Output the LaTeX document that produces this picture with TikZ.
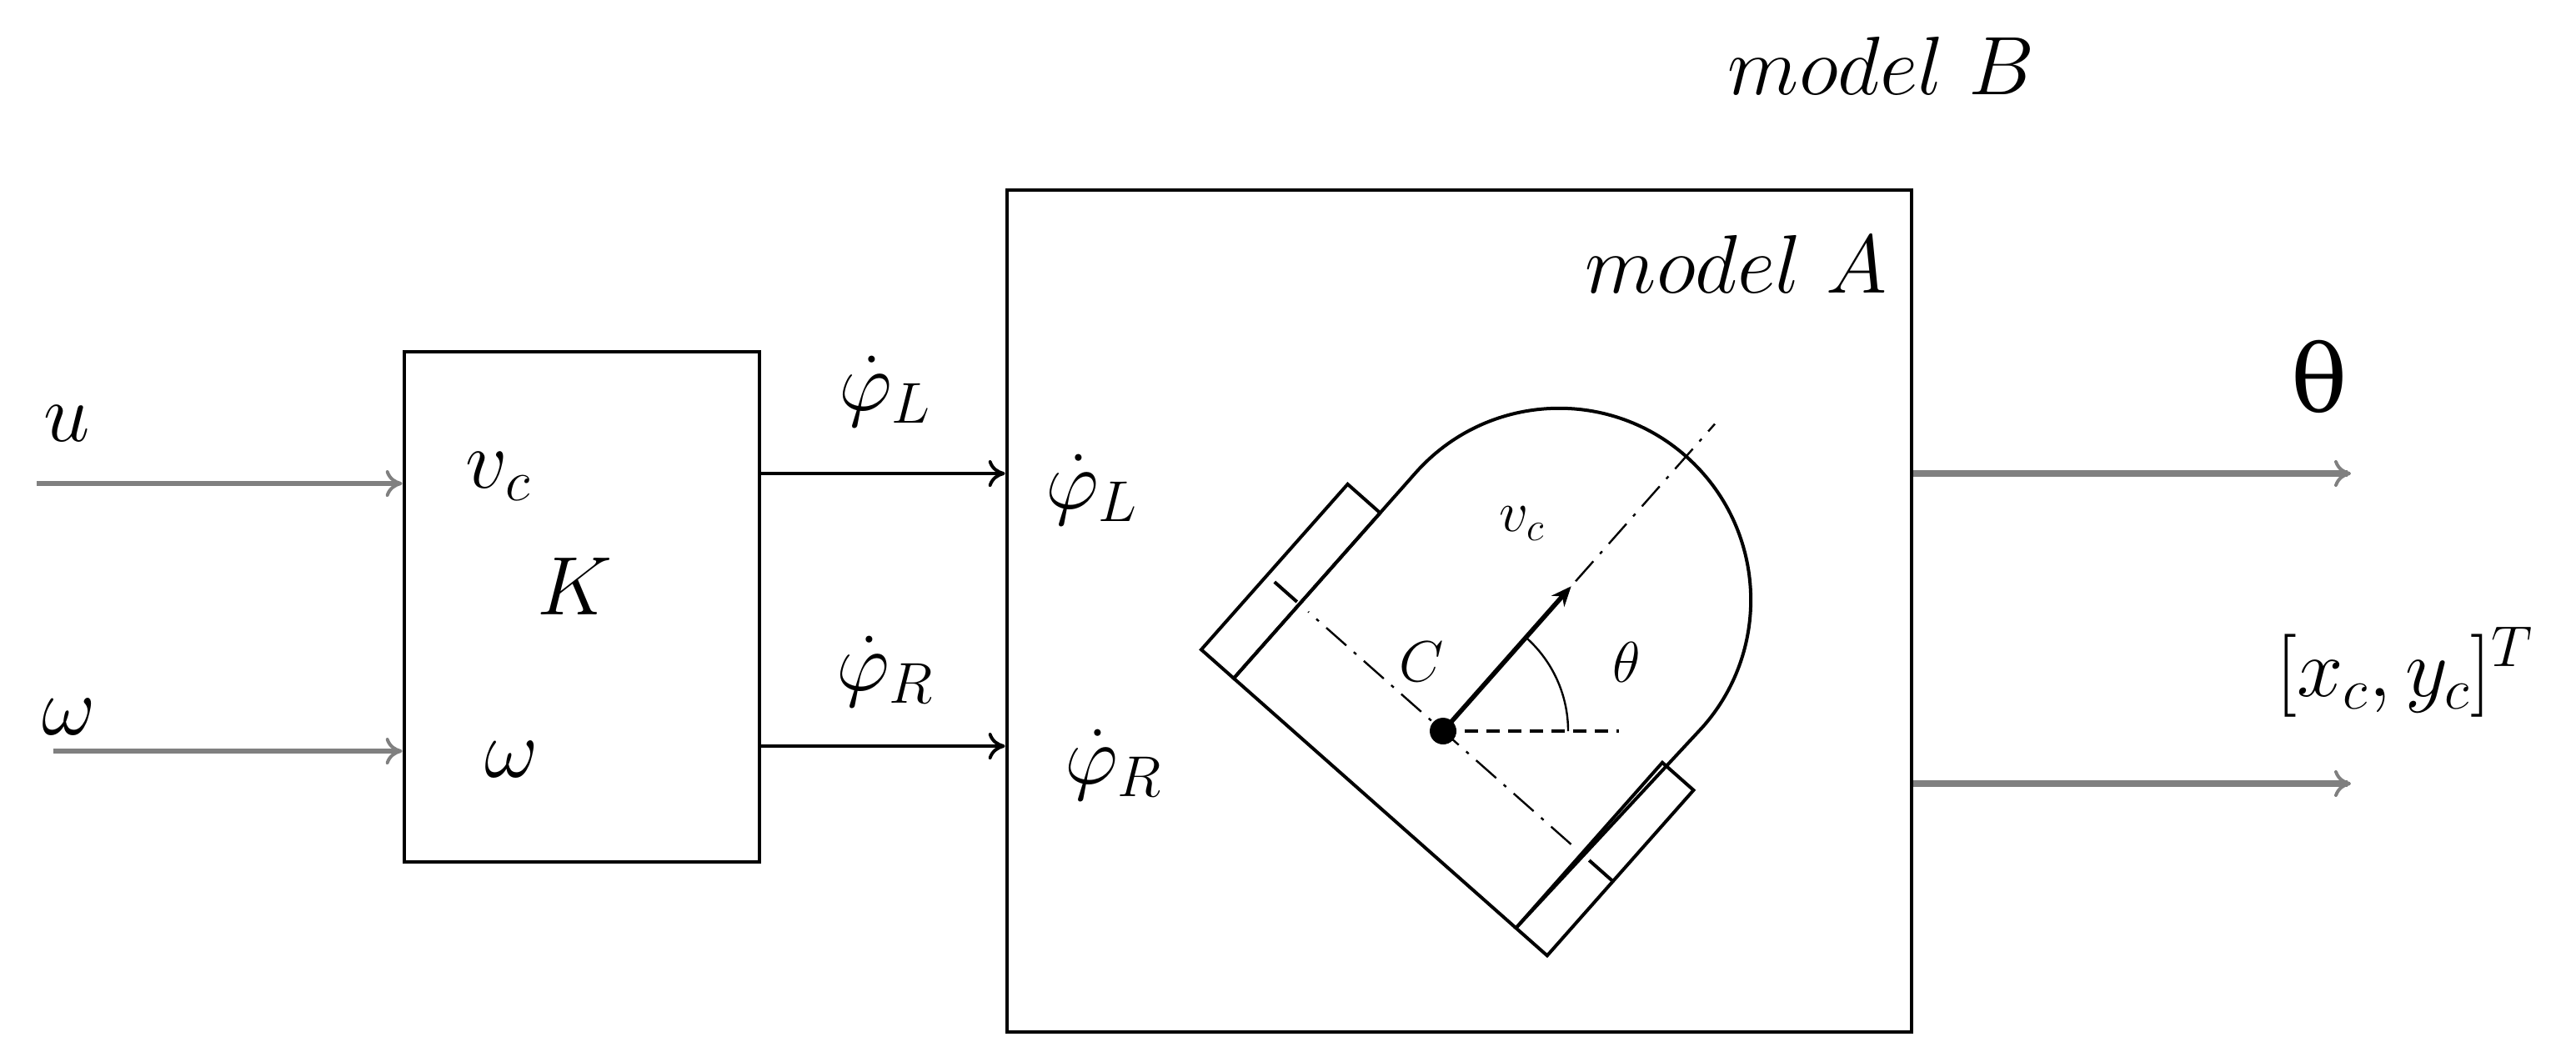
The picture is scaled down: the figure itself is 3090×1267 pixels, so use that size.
\documentclass[tikz,border=0pt]{standalone}
\usepackage{amsmath,amssymb}
\usepackage{fontspec}
\newfontfamily\grkfont{DejaVu Serif}
\usetikzlibrary{arrows.meta,calc}

\tikzset{
  blk/.style={draw=black, line width=1.2pt, inner sep=0pt},
  sig/.style={draw=black!50, line width=1.3pt, -{To[length=5pt,width=8pt,line width=1pt]}},
  wide/.style={sig, line width=2pt},
  lbl/.style={inner sep=0pt, font=\fontsize{25}{29}\selectfont},
  small/.style={inner sep=0pt, font=\fontsize{17}{20}\selectfont},
  body/.style={line width=1pt},
}

\begin{document}
\begin{tikzpicture}[x=0.25pt,y=-0.25pt]
  \useasboundingbox (0,0) rectangle (3090,1267);
  % Drawing blocks
  \node[blk, minimum width=106.5pt, minimum height=153pt] (K) at (698,728) {};
  \node[blk, minimum width=271.25pt, minimum height=252.5pt] (A) at (1750.5,733) {};
  \node[inner sep=0pt, font=\fontsize{46}{52}\selectfont] (Klab) at (690,703) {$K$};
  \node[lbl] (mA) at (2083,317) {$model\ A$};
  \node[lbl] (mB) at (2257,79) {$model\ B$};
  % Inputs of K
  \coordinate (uin) at (44,580);
  \coordinate (win) at (64,901);
  \draw[sig] (uin) -- (uin -| K.west);
  \draw[sig] (win) -- (win -| K.west);
  \node[lbl] (u) at (80,508) {$u$};
  \node[lbl] (w) at (83,860) {$\omega$};
  \node[lbl] (vcin) at (598,572) {$v_c$};
  \node[lbl] (win2) at (614,911) {$\omega$};
  % K to model A
  \coordinate (pL) at (911,568);
  \coordinate (pR) at (911,895);
  \draw[sig, draw=black, line width=1pt] (pL -| K.east) -- (pL -| A.west);
  \draw[sig, draw=black, line width=1pt] (pR -| K.east) -- (pR -| A.west);
  \node[lbl] (pLa) at (1062,470) {$\dot{\varphi}_L$};
  \node[lbl] (pRa) at (1062,806) {$\dot{\varphi}_R$};
  \node[lbl] (pLb) at (1310,588) {$\dot{\varphi}_L$};
  \node[lbl] (pRb) at (1336,918) {$\dot{\varphi}_R$};
  % Outputs
  \coordinate (th) at (2820,568);
  \coordinate (xy) at (2820,940);
  \draw[wide] (th -| A.east) -- (th);
  \draw[wide] (xy -| A.east) -- (xy);
  \node[inner sep=0pt, font=\grkfont\fontsize{28}{32}\selectfont] (thl) at (2782,452) {θ};
  \node[lbl] (xyl) at (2885,806) {$[x_c,y_c]^T$};
  % Robot
  \coordinate (C) at (1731,877);
  \begin{scope}[shift={(C)}, rotate=48.5, yscale=-1]
    \draw[body] (-119,-222) rectangle (146,-272);
    \draw[body] (-119,230) rectangle (146,282);
    \draw[body] (0,-272) -- (0,-234);
    \draw[body] (0,234) -- (0,270);
    \draw[body] (-119,-222) -- (-119,230) -- (210,230)
      arc[start angle=90, end angle=-90, radius=230] -- (-119,-222);
    \draw[line width=0.6pt, dash pattern=on 8pt off 3pt on 1pt off 3pt] (0,-205) -- (0,216);
    \draw[line width=0.6pt, dash pattern=on 8pt off 3pt on 1pt off 3pt] (0,0) -- (492,0);
    \draw[line width=1.4pt, -{Stealth[length=6pt,width=5pt]}] (0,0) -- (232,0);
  \end{scope}
  \draw[line width=0.9pt, dash pattern=on 4pt off 2.5pt] (C) -- ++(211,0);
  \draw[line width=0.6pt] ($(C)+(150,0)$) arc[start angle=0, end angle=48.5, radius=37.5pt];
  \fill (C) circle (4pt);
  \node[small] (Cl) at (1705,794) {$C$};
  \node[small] (thr) at (1951,794) {$\theta$};
  \node[small] (vcr) at (1826,628) {$v_c$};
\end{tikzpicture}
\end{document}
